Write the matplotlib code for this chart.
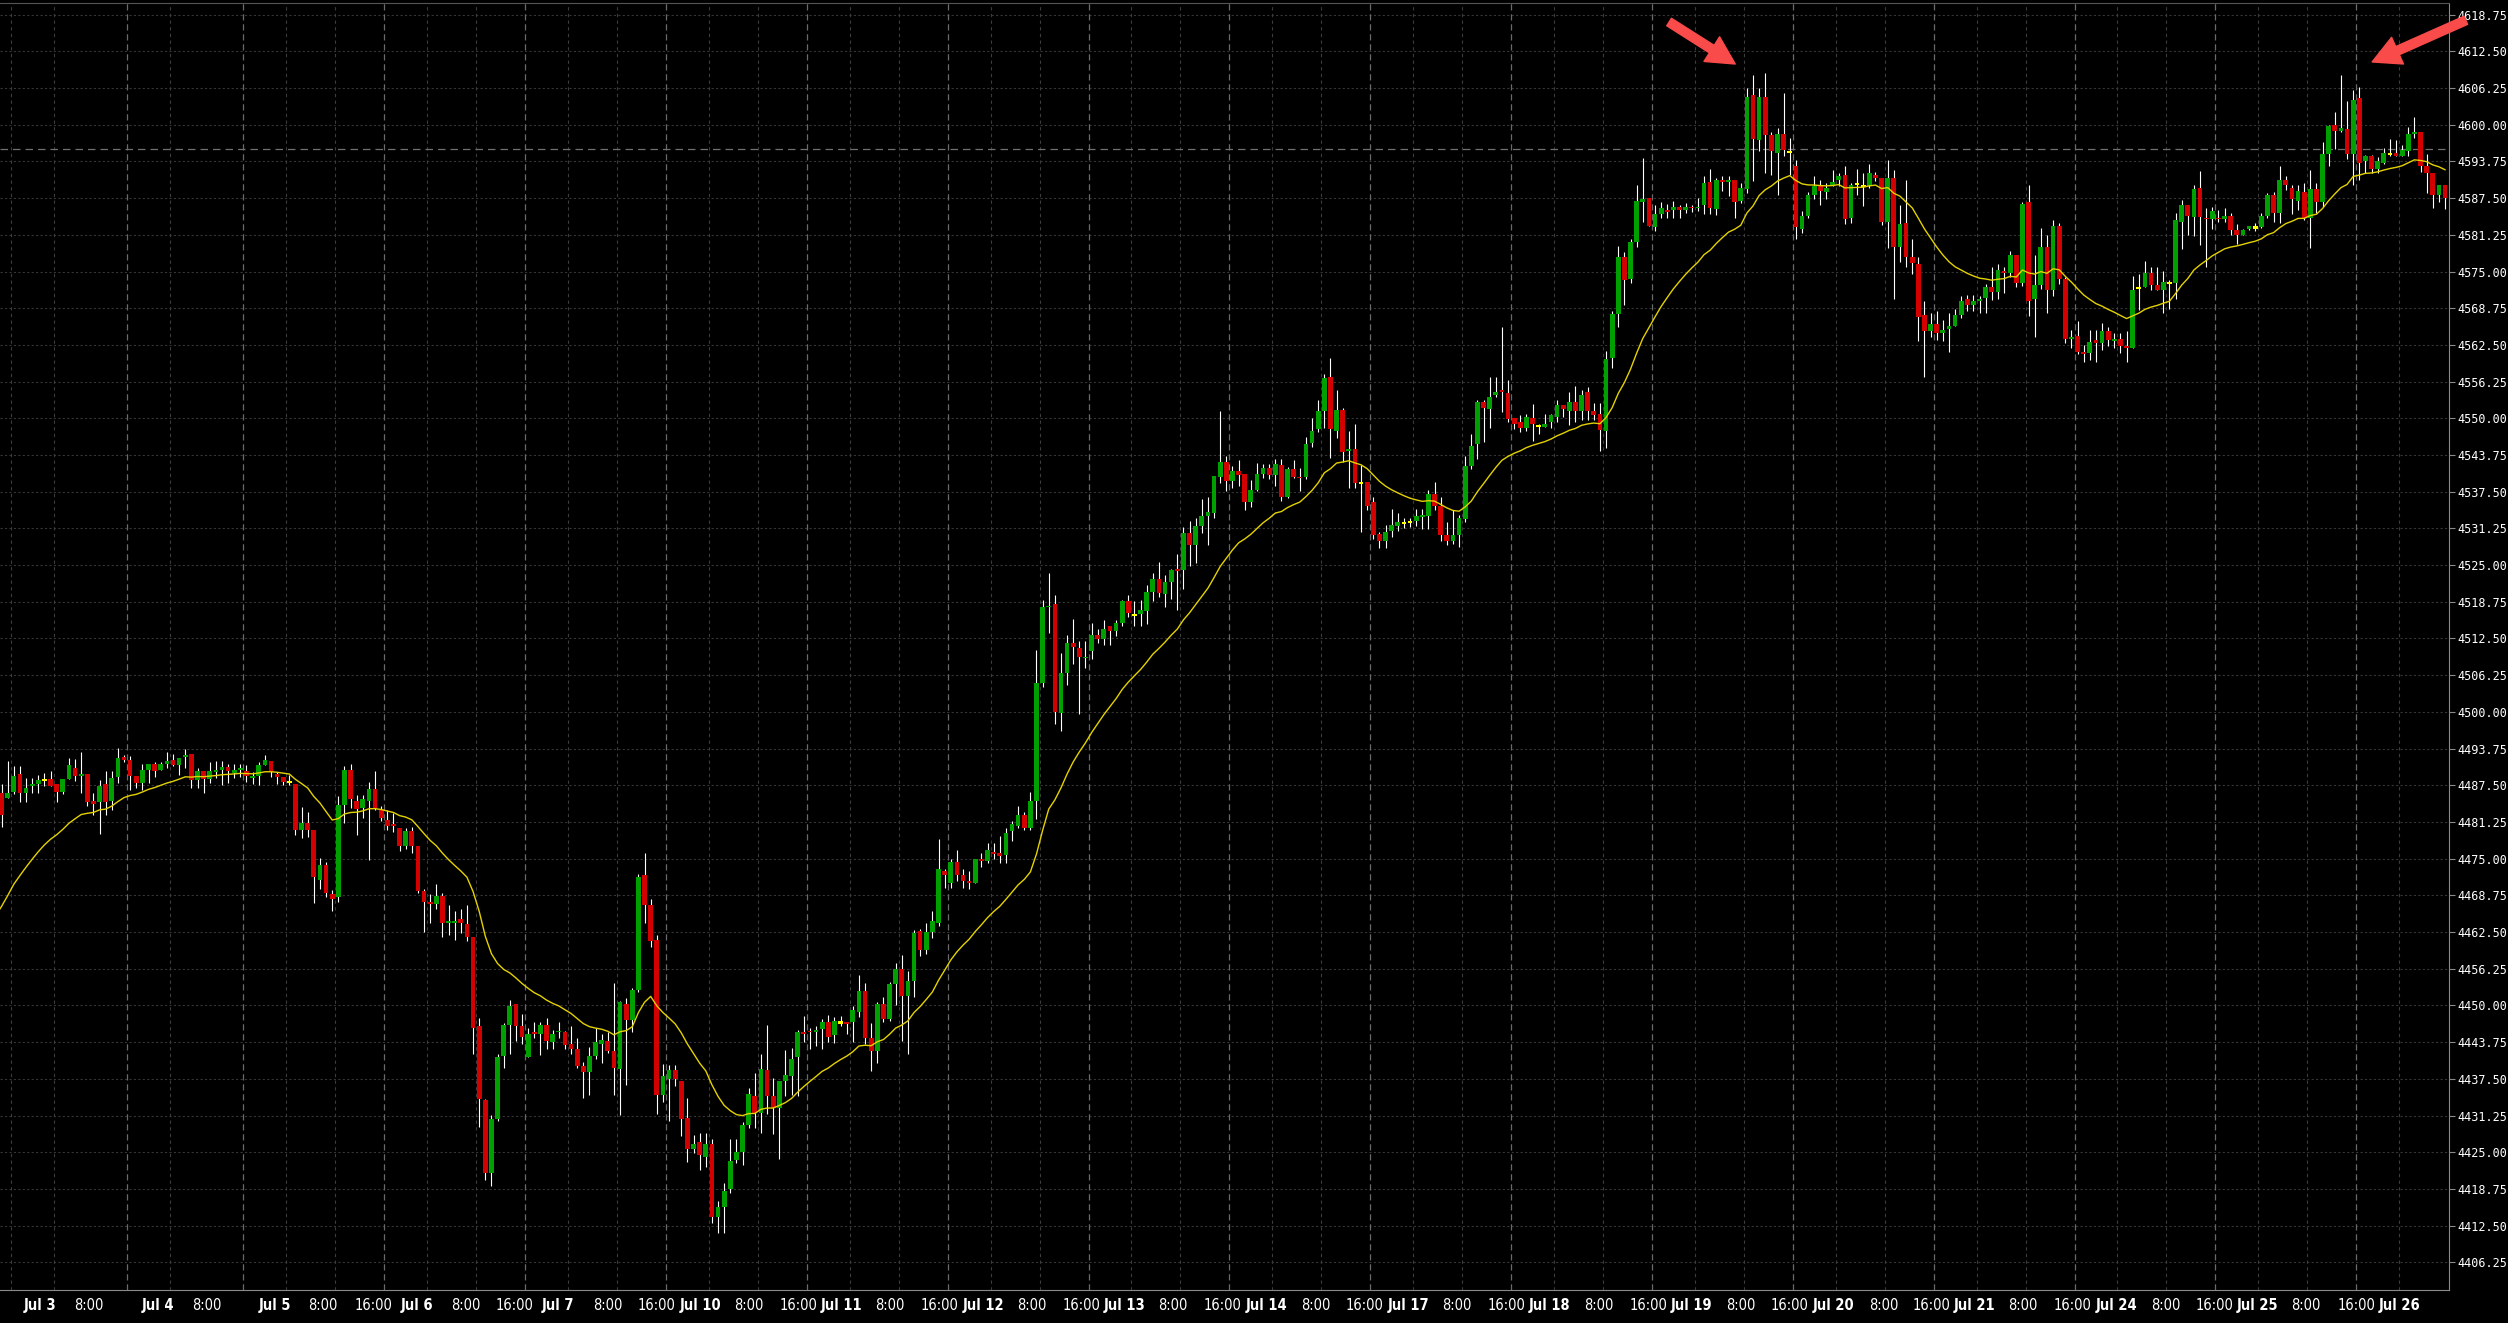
import matplotlib
matplotlib.use("Agg")
import matplotlib.pyplot as plt
import numpy as np
import pandas as pd

# hourly candles, Jul 3 - Jul 26 (x = bar number)
opens = [
    4493.6, 4486.1, 4485.4, 4486.4, 4489.4, 4486.2, 4487.3, 4487.7, 4488.4, 4488.5,
    4487.7, 4486.4, 4488.6, 4490.5, 4489.1, 4489.4, 4484.9, 4484.7, 4487.7, 4484.9,
    4488.9, 4492.3, 4491.8, 4489.1, 4487.9, 4490.1, 4491.1, 4490.1, 4491.1, 4491.8,
    4490.9, 4492.3, 4492.8, 4488.4, 4490.0, 4488.6, 4489.8, 4490.1, 4490.6, 4489.6,
    4490.1, 4490.0, 4488.8, 4489.1, 4490.9, 4491.6, 4489.5, 4488.9, 4488.0, 4487.8,
    4479.9, 4481.0, 4479.9, 4471.35, 4473.9, 4469.0, 4468.5, 4484.1, 4490.1, 4484.8,
    4483.7, 4484.8, 4486.9, 4483.3, 4481.6, 4480.9, 4480.3, 4477.2, 4479.7, 4477.2,
    4469.5, 4467.7, 4467.2, 4468.6, 4464.0, 4464.1, 4464.7, 4463.9, 4461.6, 4446.5,
    4433.9, 4421.4, 4430.6, 4441.4, 4446.6, 4450.2, 4446.5, 4441.3, 4445.5, 4445.1,
    4446.6, 4443.8, 4445.4, 4445.5, 4443.5, 4442.5, 4439.7, 4438.7, 4441.4, 4443.5,
    4443.9, 4442.3, 4439.1, 4450.2, 4447.5, 4452.6, 4472.2, 4467.1, 4461.1, 4434.7,
    4437.4, 4439.0, 4437.1, 4430.9, 4425.5, 4426.7, 4424.2, 4426.4, 4414.0, 4415.7,
    4418.7, 4423.7, 4425.1, 4429.6, 4434.6, 4431.7, 4439.0, 4434.5, 4432.6, 4437.1,
    4438.0, 4441.3, 4445.4, 4445.6, 4445.5, 4446.0, 4447.1, 4444.9, 4447.1, 4447.2,
    4447.1, 4448.9, 4452.4, 4444.5, 4442.3, 4450.3, 4447.7, 4453.6, 4456.2, 4451.6,
    4454.1, 4462.7, 4459.5, 4462.5, 4464.0, 4472.9, 4470.9, 4474.4, 4472.2, 4471.2,
    4470.9, 4474.9, 4474.6, 4476.1, 4475.9, 4475.6, 4479.7, 4480.6, 4482.4, 4480.3,
    4484.8, 4504.9, 4517.8, 4518.4, 4499.8, 4506.7, 4511.8, 4510.8, 4509.1, 4510.4,
    4513.1, 4512.4, 4514.6, 4513.8, 4515.2, 4518.8, 4516.5, 4516.7, 4517.2, 4520.5,
    4522.7, 4520.1, 4522.2, 4524.3, 4524.2, 4530.5, 4528.5, 4531.65, 4533.3, 4533.9,
    4540.05, 4542.6, 4539.4, 4541.0, 4540.5, 4535.8, 4537.8, 4540.5, 4541.5, 4540.3,
    4542.0, 4536.6, 4541.3, 4540.05, 4540.05, 4545.85, 4548.1, 4551.25, 4557.0, 4547.9,
    4551.5, 4544.5, 4544.8, 4539.0, 4539.1, 4535.7, 4530.3, 4529.1, 4530.85, 4531.7,
    4532.2, 4532.4, 4532.5, 4533.2, 4533.4, 4537.1, 4535.1, 4530.1, 4529.15, 4530.1,
    4532.85, 4541.9, 4545.6, 4552.8, 4551.6, 4553.9, 4554.8, 4554.25, 4550.0, 4549.3,
    4548.4, 4550.0, 4548.7, 4548.6, 4549.4, 4550.3, 4552.3, 4551.3, 4552.8, 4551.3,
    4554.4, 4551.3, 4550.7, 4547.9, 4560.3, 4567.8, 4577.5, 4573.7, 4580.1, 4586.9,
    4587.6, 4582.6, 4584.8, 4585.5, 4585.4, 4586.0, 4585.4, 4586.0, 4585.8, 4586.4,
    4590.2, 4585.6, 4590.6, 4590.2, 4590.6, 4587.0, 4589.05, 4605.1, 4597.4, 4604.8,
    4598.3, 4595.2, 4598.4, 4595.4, 4593.0, 4582.2, 4584.5, 4588.0, 4589.6, 4588.6,
    4589.7, 4590.6, 4591.4, 4584.2, 4589.9, 4589.6, 4589.6, 4591.4, 4590.9, 4583.5,
    4590.9, 4579.1, 4583.2, 4577.4, 4576.3, 4567.6, 4564.9, 4566.1, 4564.6, 4565.2,
    4565.8, 4567.6, 4570.3, 4569.3, 4569.9, 4570.5, 4572.4, 4571.6, 4575.1, 4574.8,
    4577.8, 4573.1, 4586.8, 4570.3, 4572.7, 4579.1, 4571.9, 4582.8, 4573.8, 4563.5,
    4564.0, 4561.3, 4561.2, 4563.3, 4562.9, 4564.9, 4563.2, 4563.5, 4562.3, 4562.0,
    4572.2, 4572.4, 4574.7, 4572.7, 4571.85, 4573.1, 4573.1, 4583.5, 4586.3, 4584.3,
    4589.2, 4584.2, 4583.9, 4584.2, 4584.0, 4584.45, 4582.1, 4581.2, 4582.2, 4582.5,
    4582.65, 4584.45, 4588.0, 4584.9, 4590.6, 4589.2, 4587.1, 4588.6, 4584.1, 4589.1,
    4586.9, 4595.0, 4599.95, 4599.0, 4599.2, 4595.0, 4604.6, 4593.9, 4594.7, 4592.45,
    4593.55, 4595.0, 4595.15, 4594.7, 4595.6, 4598.4, 4598.7, 4593.0, 4591.8, 4588.0,
    4589.7,
]
highs = [
    4498.0, 4487.8, 4491.6, 4490.7, 4490.7, 4488.8, 4488.8, 4489.2, 4489.6, 4489.9,
    4487.7, 4488.6, 4492.1, 4491.9, 4493.2, 4489.4, 4486.1, 4488.4, 4490.0, 4490.0,
    4493.8, 4492.7, 4492.4, 4489.1, 4491.1, 4491.2, 4491.5, 4491.5, 4493.2, 4492.9,
    4492.1, 4493.6, 4492.8, 4490.4, 4490.0, 4491.5, 4491.6, 4491.6, 4491.1, 4491.1,
    4491.1, 4490.9, 4489.8, 4491.5, 4492.6, 4491.6, 4489.8, 4488.9, 4489.2, 4487.8,
    4483.8, 4483.0, 4479.9, 4475.05, 4474.4, 4469.6, 4485.6, 4490.7, 4491.1, 4485.8,
    4485.8, 4488.1, 4489.9, 4484.0, 4483.3, 4482.7, 4480.3, 4480.2, 4480.4, 4477.2,
    4469.8, 4468.9, 4470.7, 4469.2, 4467.1, 4466.1, 4466.4, 4467.1, 4461.7, 4447.8,
    4434.1, 4431.4, 4441.7, 4447.0, 4450.9, 4450.3, 4448.6, 4446.1, 4447.1, 4447.2,
    4447.8, 4445.9, 4447.1, 4445.6, 4446.5, 4444.5, 4440.4, 4442.9, 4446.1, 4445.2,
    4445.5, 4453.9, 4450.8, 4451.2, 4452.9, 4472.4, 4475.9, 4468.1, 4462.0, 4440.1,
    4439.8, 4439.8, 4437.1, 4434.3, 4427.9, 4428.2, 4428.3, 4427.2, 4416.7, 4419.8,
    4427.2, 4427.3, 4430.2, 4436.0, 4438.5, 4441.8, 4446.7, 4437.7, 4437.1, 4442.4,
    4442.7, 4445.9, 4448.2, 4446.2, 4446.5, 4447.7, 4448.4, 4448.1, 4448.2, 4447.2,
    4449.9, 4455.2, 4453.9, 4447.0, 4450.5, 4451.5, 4454.0, 4457.2, 4458.6, 4455.9,
    4462.8, 4463.0, 4464.0, 4466.0, 4478.3, 4473.2, 4474.9, 4476.5, 4473.2, 4472.9,
    4475.0, 4475.9, 4477.7, 4477.7, 4478.8, 4480.3, 4481.4, 4483.9, 4483.0, 4486.3,
    4510.5, 4519.05, 4523.7, 4519.9, 4510.0, 4513.1, 4515.8, 4512.1, 4512.1, 4515.2,
    4514.2, 4515.6, 4514.6, 4515.6, 4519.05, 4519.9, 4518.9, 4519.05, 4521.6, 4523.6,
    4525.5, 4523.3, 4524.4, 4526.9, 4531.5, 4532.5, 4533.0, 4536.2, 4536.6, 4540.1,
    4551.3, 4543.6, 4541.9, 4542.9, 4540.5, 4539.5, 4542.4, 4542.3, 4542.3, 4543.1,
    4543.1, 4541.75, 4542.9, 4541.6, 4546.9, 4550.0, 4553.1, 4557.5, 4560.2, 4554.8,
    4551.7, 4547.9, 4549.0, 4542.0, 4539.1, 4536.6, 4530.7, 4531.8, 4534.5, 4533.9,
    4533.1, 4532.95, 4534.5, 4534.6, 4537.8, 4539.1, 4536.6, 4532.4, 4534.4, 4533.5,
    4543.6, 4547.3, 4553.2, 4553.2, 4557.0, 4557.1, 4565.6, 4556.6, 4550.0, 4550.5,
    4550.8, 4552.5, 4549.0, 4550.7, 4550.7, 4553.2, 4552.3, 4554.5, 4555.5, 4554.9,
    4555.3, 4552.6, 4552.6, 4561.5, 4568.3, 4579.35, 4578.4, 4580.5, 4589.7, 4594.3,
    4587.6, 4586.3, 4586.9, 4586.5, 4587.1, 4586.3, 4586.6, 4586.4, 4587.6, 4591.2,
    4592.5, 4590.9, 4591.2, 4591.2, 4590.6, 4590.0, 4606.3, 4608.4, 4606.2, 4608.9,
    4598.8, 4599.4, 4605.4, 4597.7, 4594.0, 4585.3, 4588.6, 4591.3, 4590.6, 4590.0,
    4592.3, 4591.8, 4593.0, 4590.1, 4592.5, 4591.7, 4593.4, 4592.0, 4590.9, 4594.0,
    4592.3, 4586.3, 4590.6, 4580.6, 4577.5, 4570.0, 4568.0, 4568.3, 4566.7, 4568.0,
    4568.7, 4570.8, 4571.0, 4571.0, 4570.8, 4572.9, 4575.8, 4576.3, 4575.7, 4578.5,
    4577.8, 4586.9, 4589.7, 4577.8, 4582.5, 4581.2, 4583.8, 4583.2, 4574.1, 4565.1,
    4566.5, 4562.5, 4565.1, 4565.1, 4566.3, 4565.6, 4564.6, 4564.6, 4564.8, 4574.3,
    4574.6, 4576.8, 4575.7, 4575.8, 4575.15, 4573.6, 4585.0, 4587.2, 4586.3, 4589.7,
    4592.2, 4585.9, 4586.0, 4585.5, 4585.9, 4585.0, 4583.1, 4582.2, 4582.7, 4583.3,
    4585.0, 4588.3, 4588.6, 4593.0, 4591.3, 4589.7, 4589.7, 4590.1, 4592.3, 4590.1,
    4597.1, 4599.95, 4602.2, 4608.5, 4604.1, 4605.9, 4606.5, 4594.85, 4594.85, 4594.55,
    4596.0, 4597.5, 4597.4, 4596.55, 4599.6, 4601.3, 4598.8, 4595.1, 4591.8, 4589.7,
    4589.7,
]
lows = [
    4486.4, 4480.4, 4485.3, 4486.0, 4484.7, 4484.7, 4486.1, 4486.1, 4487.3, 4487.4,
    4484.7, 4486.0, 4488.6, 4488.3, 4486.1, 4483.9, 4482.4, 4479.2, 4482.4, 4483.3,
    4487.9, 4491.5, 4486.7, 4487.1, 4486.7, 4487.9, 4488.9, 4490.1, 4490.4, 4490.7,
    4489.2, 4490.4, 4487.1, 4487.1, 4486.1, 4487.9, 4488.8, 4487.5, 4487.9, 4488.8,
    4488.9, 4488.1, 4487.7, 4487.5, 4490.9, 4488.9, 4487.8, 4487.5, 4487.5, 4479.0,
    4478.6, 4478.7, 4467.4, 4469.9, 4468.5, 4466.0, 4467.55, 4481.0, 4483.6, 4479.0,
    4481.9, 4474.8, 4483.3, 4481.4, 4479.9, 4479.6, 4476.3, 4476.6, 4476.0, 4469.1,
    4462.5, 4464.1, 4466.5, 4461.6, 4462.0, 4461.1, 4462.3, 4460.9, 4441.8, 4429.3,
    4420.2, 4419.3, 4430.4, 4439.3, 4441.8, 4444.0, 4443.5, 4441.2, 4444.4, 4441.5,
    4442.6, 4442.6, 4444.5, 4442.6, 4441.7, 4439.4, 4434.2, 4434.7, 4440.8, 4440.2,
    4441.9, 4434.8, 4431.3, 4436.4, 4445.4, 4452.3, 4464.1, 4459.9, 4431.5, 4433.6,
    4430.4, 4436.2, 4427.8, 4423.4, 4424.8, 4421.9, 4422.4, 4413.0, 4411.2, 4411.2,
    4418.0, 4423.1, 4422.8, 4429.2, 4429.2, 4428.3, 4431.5, 4428.1, 4423.8, 4434.5,
    4434.7, 4434.6, 4443.8, 4442.6, 4443.1, 4442.6, 4443.8, 4443.6, 4446.5, 4445.2,
    4443.8, 4448.1, 4443.5, 4438.9, 4440.2, 4447.1, 4447.4, 4450.1, 4443.9, 4441.8,
    4451.5, 4458.5, 4458.8, 4461.5, 4463.5, 4470.0, 4470.0, 4471.2, 4470.0, 4469.8,
    4470.9, 4473.6, 4474.3, 4475.0, 4474.3, 4474.3, 4478.0, 4480.3, 4479.8, 4479.8,
    4481.7, 4504.3, 4513.4, 4498.0, 4496.8, 4504.5, 4508.1, 4499.7, 4507.5, 4509.0,
    4511.8, 4511.4, 4511.4, 4513.0, 4514.7, 4516.2, 4514.7, 4514.7, 4515.0, 4518.9,
    4519.5, 4517.9, 4519.3, 4517.3, 4520.9, 4524.9, 4525.4, 4530.5, 4528.5, 4532.95,
    4539.0, 4537.7, 4538.2, 4538.5, 4534.3, 4534.95, 4537.7, 4539.8, 4539.6, 4538.5,
    4535.97, 4536.35, 4539.8, 4537.7, 4539.6, 4545.2, 4547.7, 4548.3, 4543.2, 4546.7,
    4542.6, 4538.1, 4538.1, 4530.7, 4534.4, 4529.4, 4527.85, 4527.85, 4529.8, 4530.85,
    4531.4, 4531.5, 4531.65, 4531.15, 4531.15, 4534.3, 4529.15, 4528.4, 4528.6, 4528.1,
    4532.4, 4541.4, 4543.1, 4546.0, 4548.4, 4553.7, 4551.1, 4549.4, 4548.1, 4547.7,
    4547.9, 4546.2, 4547.3, 4548.6, 4548.4, 4549.3, 4550.3, 4548.9, 4549.4, 4549.7,
    4549.7, 4549.7, 4544.5, 4545.0, 4558.5, 4565.6, 4569.3, 4573.1, 4579.2, 4583.5,
    4582.8, 4581.9, 4584.2, 4584.2, 4584.2, 4584.2, 4584.9, 4585.2, 4585.3, 4584.8,
    4584.8, 4584.6, 4588.8, 4587.9, 4584.2, 4586.7, 4588.4, 4590.5, 4595.6, 4591.8,
    4591.4, 4588.0, 4594.6, 4591.4, 4580.5, 4581.5, 4584.2, 4587.3, 4586.3, 4587.4,
    4589.6, 4589.6, 4583.1, 4583.3, 4588.0, 4586.2, 4589.2, 4590.5, 4582.9, 4578.95,
    4570.4, 4576.7, 4575.7, 4574.5, 4563.2, 4557.0, 4563.9, 4563.3, 4563.2, 4561.3,
    4565.7, 4567.1, 4568.2, 4568.2, 4568.0, 4568.0, 4570.1, 4570.3, 4571.4, 4574.1,
    4572.3, 4572.5, 4567.5, 4563.8, 4572.1, 4568.0, 4570.9, 4572.9, 4562.8, 4561.9,
    4560.9, 4559.6, 4559.9, 4559.6, 4561.6, 4562.3, 4561.9, 4561.2, 4559.6, 4561.9,
    4568.4, 4572.4, 4571.85, 4571.85, 4567.99, 4568.6, 4570.3, 4578.8, 4581.2, 4581.05,
    4579.6, 4575.7, 4582.2, 4583.4, 4583.45, 4581.2, 4579.7, 4581.2, 4582.1, 4581.95,
    4582.4, 4584.05, 4583.5, 4583.3, 4588.9, 4584.75, 4585.4, 4583.8, 4578.95, 4584.9,
    4586.05, 4592.9, 4595.9, 4598.8, 4594.1, 4589.7, 4590.6, 4591.7, 4591.7, 4591.8,
    4593.3, 4594.6, 4594.6, 4594.6, 4594.6, 4597.7, 4591.9, 4588.4, 4585.9, 4586.8,
    4585.6,
]
closes = [
    4486.4, 4482.4, 4486.1, 4489.1, 4486.2, 4487.1, 4487.7, 4488.4, 4488.4, 4487.4,
    4486.4, 4488.6, 4490.9, 4489.1, 4489.4, 4484.7, 4484.3, 4487.4, 4484.7, 4488.8,
    4492.1, 4491.8, 4489.1, 4487.9, 4490.1, 4491.1, 4490.0, 4491.1, 4491.6, 4490.9,
    4492.1, 4492.7, 4488.4, 4490.0, 4488.6, 4490.0, 4490.1, 4490.6, 4490.0, 4490.1,
    4490.5, 4489.1, 4489.1, 4490.9, 4491.8, 4489.8, 4488.9, 4488.1, 4488.0, 4479.8,
    4481.0, 4479.9, 4471.8, 4473.9, 4469.1, 4468.1, 4484.1, 4490.1, 4485.2, 4483.5,
    4485.2, 4486.9, 4483.7, 4482.0, 4480.6, 4480.6, 4477.2, 4479.7, 4477.2, 4469.5,
    4467.7, 4467.2, 4468.6, 4464.0, 4464.3, 4464.4, 4464.0, 4461.7, 4446.2, 4434.0,
    4421.4, 4430.6, 4441.3, 4446.6, 4449.9, 4446.5, 4444.7, 4445.1, 4445.1, 4446.6,
    4444.0, 4445.1, 4445.7, 4443.2, 4442.5, 4439.7, 4438.7, 4441.4, 4443.8, 4444.1,
    4442.3, 4439.3, 4450.5, 4447.5, 4452.6, 4471.9, 4467.1, 4461.0, 4434.7, 4437.9,
    4439.0, 4437.4, 4430.7, 4425.5, 4426.4, 4424.5, 4426.4, 4414.0, 4415.7, 4418.4,
    4423.5, 4425.1, 4429.6, 4434.9, 4431.7, 4439.1, 4434.5, 4432.6, 4437.1, 4438.1,
    4440.9, 4445.4, 4445.2, 4445.4, 4445.9, 4447.1, 4444.7, 4447.4, 4447.1, 4446.9,
    4449.2, 4452.4, 4444.5, 4442.3, 4450.3, 4447.7, 4453.6, 4456.2, 4451.6, 4454.1,
    4462.3, 4459.5, 4462.5, 4464.3, 4473.2, 4472.2, 4474.4, 4472.2, 4471.2, 4470.9,
    4475.0, 4474.6, 4476.5, 4475.8, 4475.4, 4479.3, 4480.9, 4482.4, 4480.3, 4484.8,
    4504.9, 4517.9, 4518.0, 4499.9, 4506.6, 4511.8, 4511.1, 4509.4, 4509.3, 4513.1,
    4512.4, 4514.2, 4513.8, 4515.2, 4518.8, 4516.9, 4516.5, 4517.3, 4520.4, 4522.7,
    4520.2, 4522.1, 4524.2, 4524.0, 4530.5, 4528.5, 4531.6, 4533.3, 4534.0, 4540.1,
    4542.6, 4539.4, 4541.0, 4540.3, 4535.8, 4537.8, 4540.5, 4541.5, 4540.3, 4542.3,
    4536.6, 4541.3, 4540.05, 4539.8, 4545.6, 4547.8, 4551.25, 4556.8, 4548.1, 4551.5,
    4544.3, 4544.8, 4538.9, 4539.0, 4535.1, 4530.1, 4529.1, 4530.7, 4531.8, 4532.4,
    4532.2, 4532.4, 4533.35, 4533.5, 4537.1, 4535.1, 4530.1, 4529.15, 4530.1, 4532.95,
    4541.9, 4545.3, 4552.7, 4551.8, 4553.7, 4554.5, 4554.4, 4549.9, 4549.1, 4548.4,
    4550.2, 4549.1, 4548.7, 4549.0, 4550.6, 4552.3, 4551.6, 4552.7, 4551.3, 4553.9,
    4551.3, 4550.6, 4548.0, 4560.1, 4567.8, 4577.4, 4573.6, 4580.1, 4587.0, 4587.3,
    4582.8, 4584.8, 4585.9, 4585.2, 4586.0, 4585.4, 4586.0, 4585.8, 4586.0, 4590.0,
    4585.9, 4590.6, 4590.3, 4590.6, 4586.9, 4589.3, 4604.8, 4597.6, 4604.8, 4598.3,
    4595.6, 4598.4, 4595.7, 4595.4, 4582.6, 4584.5, 4588.0, 4589.6, 4588.7, 4589.2,
    4590.2, 4591.3, 4583.9, 4589.7, 4589.9, 4589.6, 4591.7, 4591.0, 4583.5, 4590.9,
    4579.1, 4583.1, 4577.4, 4576.4, 4567.3, 4564.9, 4566.1, 4564.6, 4565.0, 4565.7,
    4567.6, 4570.0, 4569.3, 4570.0, 4570.3, 4572.4, 4571.6, 4575.3, 4574.8, 4577.8,
    4573.1, 4586.5, 4570.0, 4572.7, 4579.1, 4571.9, 4582.8, 4573.7, 4563.5, 4563.9,
    4561.3, 4560.9, 4563.0, 4562.9, 4564.9, 4563.3, 4563.5, 4562.3, 4562.0, 4571.9,
    4572.2, 4574.7, 4572.7, 4571.85, 4573.2, 4573.1, 4583.8, 4586.3, 4584.5, 4589.1,
    4584.3, 4583.95, 4585.3, 4583.95, 4584.45, 4582.1, 4581.2, 4582.1, 4582.7, 4582.5,
    4584.45, 4588.0, 4584.9, 4590.6, 4589.7, 4587.3, 4588.7, 4584.1, 4589.1, 4586.9,
    4595.0, 4599.8, 4599.0, 4599.5, 4595.0, 4604.2, 4593.55, 4594.6, 4592.45, 4593.8,
    4595.15, 4595.0, 4594.6, 4595.7, 4598.4, 4598.7, 4592.9, 4591.8, 4588.0, 4589.7,
    4587.6,
]

# moving average: EMA, started from the level it had before the first bar
ma_seed = 4463.0
ma_span = 20

# time axis labels and where they sit (bar units)
tick_text = ['Jul 3', '8:00', 'Jul 4', '8:00', 'Jul 5', '8:00', '16:00',
             'Jul 6', '8:00', '16:00', 'Jul 7', '8:00', '16:00',
             'Jul 10', '8:00', '16:00', 'Jul 11', '8:00', '16:00',
             'Jul 12', '8:00', '16:00', 'Jul 13', '8:00', '16:00',
             'Jul 14', '8:00', '16:00', 'Jul 17', '8:00', '16:00',
             'Jul 18', '8:00', '16:00', 'Jul 19', '8:00', '16:00',
             'Jul 20', '8:00', '16:00', 'Jul 21', '8:00', '16:00',
             'Jul 24', '8:00', '16:00', 'Jul 25', '8:00', '16:00', 'Jul 26']
tick_pos = [7.3, 15.3, 26.5, 34.6, 45.6, 53.5, 61.7, 68.8, 76.8, 84.8,
            91.9, 100.0, 108.0, 115.1, 123.1, 131.1, 138.1, 146.1, 154.1,
            161.3, 169.3, 177.3, 184.3, 192.3, 200.3, 207.5, 215.6, 223.5,
            230.7, 238.7, 246.8, 253.7, 261.9, 269.9, 276.9, 285.0, 293.0,
            300.1, 308.4, 316.2, 323.1, 331.1, 339.1, 346.3, 354.4, 362.3,
            369.3, 377.3, 385.5, 392.5]
grid_pos = [2.5, 9.5, 21.5, 28.5, 40.5, 47.5, 55.5, 63.5, 70.5, 78.5, 86.5,
            93.5, 101.5, 109.5, 116.5, 124.5, 132.5, 139.5, 147.5, 155.5,
            162.5, 170.5, 178.5, 185.5, 193.5, 201.5, 208.5, 216.5, 224.5,
            231.5, 239.5, 247.5, 254.5, 262.5, 270.5, 277.5, 285.5, 293.5,
            300.5, 308.5, 316.5, 323.5, 331.5, 339.5, 346.5, 354.5, 362.5,
            369.5, 377.5, 385.5, 392.5]
session_pos = [21.5, 40.5, 63.5, 86.5, 109.5, 132.5, 155.5, 178.5, 201.5,
               224.5, 247.5, 270.5, 293.5, 316.5, 339.5, 362.5, 385.5]
crosshair_price = 4595.8

o = np.array(opens)
h = np.array(highs)
l = np.array(lows)
c = np.array(closes)
x = np.arange(len(c))
ma = pd.Series([ma_seed] + closes).ewm(span=ma_span, adjust=False).mean().values[1:]

fig = plt.figure(figsize=(25.08, 13.23), dpi=100, facecolor='black')
ax = fig.add_axes([0, 33 / 1323, 2449 / 2508, 1287 / 1323])
ax.set_facecolor('black')
ax.set_xlim(0.75, 400.65)
ax.set_ylim(4401.53, 4620.74)

# grid
yt = np.arange(4406.25, 4620, 6.25)
for v in yt:
    ax.axhline(v, color='#353535', lw=0.8, ls=(0, (2, 2)), zorder=0)
for p in grid_pos:
    if p in session_pos:
        ax.axvline(p, color='#6a6a6a', lw=0.9, ls=(0, (5, 3)), zorder=0)
    else:
        ax.axvline(p, color='#3c3c3c', lw=0.8, ls=(0, (3, 3)), zorder=0)
ax.axhline(crosshair_price, color='#707070', lw=0.9, ls=(0, (6, 4)), zorder=0.5)

# candles
ax.vlines(x, l, h, color='white', lw=0.8, zorder=2)
up = c > o
flat = c == o
bot = np.minimum(o, c)
hgt = np.maximum(np.abs(c - o), 0.2)
cols = np.where(up, '#00a000', '#d40000')
ax.bar(x[~flat], hgt[~flat], bottom=bot[~flat], width=0.77,
       color=cols[~flat], linewidth=0, zorder=3)
ax.bar(x[flat], 0.36, bottom=c[flat] - 0.18, width=0.77,
       color='#ffff00', linewidth=0, zorder=3)

ax.plot(x, ma, color='#e4d200', lw=1.0, zorder=4)

# arrows
arrow_style = 'simple,head_length=1.0,head_width=1.05,tail_width=0.32'
ax.annotate('', xy=(284.1, 4610.35), xytext=(273.3, 4617.5),
            arrowprops=dict(arrowstyle=arrow_style, color='#fa4b4b',
                            mutation_scale=20, shrinkA=0, shrinkB=0),
            annotation_clip=False, zorder=6)
ax.annotate('', xy=(388.1, 4610.7), xytext=(403.4, 4617.8),
            arrowprops=dict(arrowstyle=arrow_style, color='#fa4b4b',
                            mutation_scale=20, shrinkA=0, shrinkB=0,
                            clip_on=False),
            annotation_clip=False, zorder=6)

# axes
ax.set_yticks(yt)
ax.set_yticklabels([f'{v:.2f}' for v in yt])
ax.yaxis.tick_right()
ax.tick_params(axis='y', colors='#8a8a8a', labelcolor='white', length=4,
               width=0.8, pad=2, labelsize=8.5)
for t in ax.get_yticklabels():
    t.set_fontfamily('DejaVu Sans Mono')

ax.set_xticks(tick_pos)
ax.set_xticklabels(tick_text)
ax.tick_params(axis='x', length=0, pad=6, labelcolor='white', labelsize=10.5)
for t in ax.get_xticklabels():
    t.set_fontfamily(['Liberation Sans Narrow', 'DejaVu Sans'])
    t.set_fontstretch('condensed')
    if t.get_text().startswith('Jul'):
        t.set_fontweight('bold')

ax.spines['left'].set_visible(False)
ax.spines['top'].set_color('#555555')
ax.spines['right'].set_color('#8a8a8a')
ax.spines['bottom'].set_color('#8a8a8a')

fig.savefig('out.png', dpi=100, facecolor='black')
